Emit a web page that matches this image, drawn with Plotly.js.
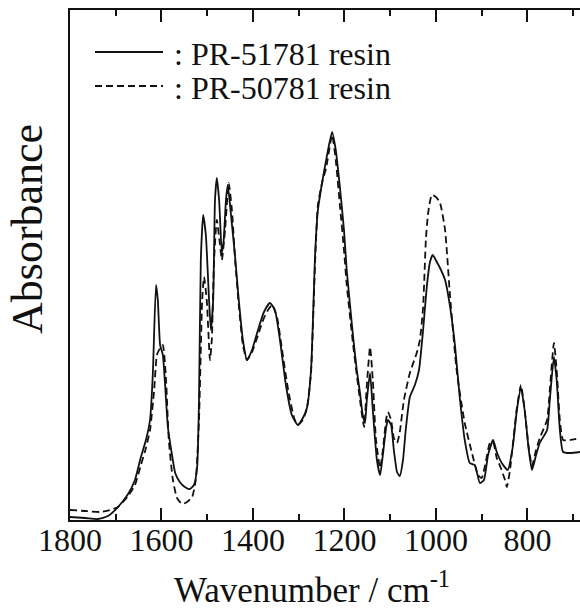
<!DOCTYPE html>
<html>
<head>
<meta charset="utf-8">
<script src="https://cdn.plot.ly/plotly-3.0.1.min.js"></script>
<style>
html,body{margin:0;padding:0;background:#fff;}
#fig text, #fig tspan{font-family:'Liberation Serif','Times New Roman',Tinos,serif !important;}
</style>
</head>
<body>
<div id="fig"></div>
<script>
// PR-51781 resin (solid)
const wnSolid = [1800,1767,1739,1717,1695,1673,1658,1645,1634,1625,1619,1612,1608,1603,1597,1590,1586,1577,1570,1560,1549,1538,1529,1522,1518,1514,1509,1503,1496,1492,1487,1483,1479,1474,1468,1464,1459,1455,1448,1439,1431,1422,1413,1402,1389,1376,1363,1352,1341,1328,1315,1302,1291,1282,1273,1264,1258,1249,1240,1227,1219,1210,1201,1195,1181,1173,1166,1160,1155,1151,1144,1138,1129,1122,1116,1109,1105,1098,1092,1085,1079,1072,1066,1057,1046,1037,1028,1020,1013,1007,998,991,980,969,958,948,937,926,915,904,895,886,875,867,856,843,832,823,814,806,797,790,781,773,757,751,742,736,729,722,707,685];
const absSolid = [0.006,0.004,0.002,0.008,0.026,0.052,0.080,0.126,0.160,0.200,0.290,0.470,0.440,0.350,0.330,0.240,0.186,0.130,0.094,0.076,0.066,0.062,0.070,0.106,0.240,0.520,0.610,0.570,0.440,0.380,0.440,0.640,0.684,0.640,0.534,0.560,0.640,0.670,0.610,0.526,0.440,0.360,0.320,0.340,0.380,0.416,0.434,0.420,0.360,0.270,0.210,0.190,0.204,0.224,0.300,0.534,0.620,0.674,0.720,0.776,0.740,0.666,0.580,0.500,0.366,0.300,0.254,0.210,0.194,0.240,0.294,0.220,0.120,0.090,0.130,0.184,0.200,0.190,0.140,0.096,0.088,0.120,0.180,0.246,0.270,0.300,0.380,0.466,0.516,0.530,0.516,0.504,0.480,0.426,0.346,0.246,0.160,0.114,0.110,0.074,0.080,0.130,0.160,0.136,0.114,0.100,0.146,0.220,0.264,0.220,0.140,0.100,0.130,0.154,0.180,0.240,0.326,0.280,0.180,0.136,0.134,0.136];

// PR-50781 resin (dashed)
const wnDashed = [1800,1767,1734,1713,1695,1673,1658,1645,1634,1625,1616,1610,1603,1597,1590,1584,1575,1566,1555,1544,1533,1525,1518,1511,1507,1501,1494,1490,1485,1479,1472,1468,1461,1453,1446,1439,1431,1422,1413,1402,1389,1376,1367,1358,1347,1337,1323,1310,1302,1291,1282,1273,1264,1258,1249,1240,1227,1219,1210,1201,1195,1181,1173,1166,1160,1157,1151,1144,1138,1131,1122,1116,1109,1105,1098,1092,1085,1079,1070,1057,1042,1035,1028,1022,1017,1009,1000,991,980,969,954,937,919,908,900,891,882,875,867,858,849,845,838,832,823,814,806,797,790,781,773,757,751,742,736,729,722,707,685];
const absDashed = [0.020,0.018,0.016,0.020,0.026,0.048,0.070,0.110,0.144,0.180,0.260,0.330,0.344,0.350,0.280,0.160,0.080,0.044,0.032,0.036,0.046,0.080,0.200,0.440,0.486,0.440,0.320,0.360,0.520,0.600,0.550,0.520,0.580,0.674,0.620,0.520,0.430,0.350,0.320,0.336,0.370,0.404,0.420,0.430,0.404,0.344,0.260,0.204,0.190,0.200,0.224,0.296,0.520,0.630,0.674,0.704,0.770,0.720,0.630,0.540,0.470,0.350,0.290,0.240,0.200,0.186,0.270,0.346,0.280,0.160,0.104,0.140,0.200,0.216,0.200,0.164,0.154,0.176,0.240,0.294,0.334,0.360,0.426,0.560,0.614,0.650,0.646,0.634,0.580,0.446,0.294,0.194,0.126,0.090,0.084,0.116,0.154,0.156,0.124,0.104,0.080,0.066,0.100,0.150,0.224,0.270,0.220,0.144,0.108,0.140,0.164,0.200,0.260,0.354,0.300,0.200,0.160,0.160,0.164];

const seriesNames = [': PR-51781 resin', ': PR-50781 resin'];
const tickVals = [1800,1600,1400,1200,1000,800];
const tickText = ['1800','1600','1400','1200','1000','800'];

const FAM = 'Liberation Serif';

const traces = [
  {x: wnSolid, y: absSolid, type: 'scatter', mode: 'lines', name: seriesNames[0],
   line: {color: '#111', width: 1.8, shape: 'spline', smoothing: 0.5}},
  {x: wnDashed, y: absDashed, type: 'scatter', mode: 'lines', name: seriesNames[1],
   line: {color: '#111', width: 1.8, dash: '7px,4px', shape: 'spline', smoothing: 0.5}}
];

const layout = {
  width: 580, height: 610,
  margin: {l: 70, r: 0, t: 10, b: 90},
  paper_bgcolor: '#fff', plot_bgcolor: '#fff',
  showlegend: false,
  font: {family: FAM},
  xaxis: {
    range: [1800, 685], autorange: false,
    tickvals: tickVals, ticktext: tickText,
    ticks: 'inside', ticklen: 12, tickwidth: 2, tickcolor: '#111',
    minor: {dtick: 100, tick0: 0, ticks: 'inside', ticklen: 6, tickwidth: 2, tickcolor: '#111'},
    showline: true, linewidth: 2, linecolor: '#111', mirror: 'ticks',
    showgrid: false, zeroline: false,
    ticklabelstandoff: -9,
    tickfont: {family: FAM, size: 32, color: '#111'}
  },
  yaxis: {
    range: [0, 1.02], autorange: false,
    showticklabels: false, ticks: '',
    showline: true, linewidth: 2, linecolor: '#111',
    showgrid: false, zeroline: false
  },
  shapes: [
    {type: 'line', xref: 'paper', yref: 'paper', x0: (95-70)/510, x1: (163-70)/510, y0: (520-52)/510, y1: (520-52)/510,
     line: {color: '#111', width: 1.8}},
    {type: 'line', xref: 'paper', yref: 'paper', x0: (95-70)/510, x1: (163-70)/510, y0: (520-86)/510, y1: (520-86)/510,
     line: {color: '#111', width: 1.8, dash: '7px,4px'}}
  ],
  annotations: [
    {xref: 'paper', yref: 'paper', x: (172-70)/510, y: (520-54)/510, xanchor: 'left', yanchor: 'middle',
     text: seriesNames[0], showarrow: false, font: {family: FAM, size: 32, color: '#111'}},
    {xref: 'paper', yref: 'paper', x: (172-70)/510, y: (520-88)/510, xanchor: 'left', yanchor: 'middle',
     text: seriesNames[1], showarrow: false, font: {family: FAM, size: 32, color: '#111'}},
    {xref: 'paper', yref: 'paper', x: (312-70)/510, y: (520-587)/510, xanchor: 'center', yanchor: 'middle',
     text: 'Wavenumber / cm<sup>-1</sup>', showarrow: false, font: {family: FAM, size: 35, color: '#111'}},
    {xref: 'paper', yref: 'paper', x: (27-70)/510, y: (520-229)/510, xanchor: 'center', yanchor: 'middle',
     text: 'Absorbance', textangle: -90, showarrow: false, font: {family: FAM, size: 44, color: '#111'}}
  ]
};

function forceSerif() {
  document.querySelectorAll('#fig text, #fig tspan').forEach(function (el) {
    el.style.setProperty('font-family', "'Liberation Serif', 'Times New Roman', serif", 'important');
  });
}

Plotly.newPlot('fig', traces, layout, {displayModeBar: false}).then(forceSerif);
forceSerif();
</script>
</body>
</html>
